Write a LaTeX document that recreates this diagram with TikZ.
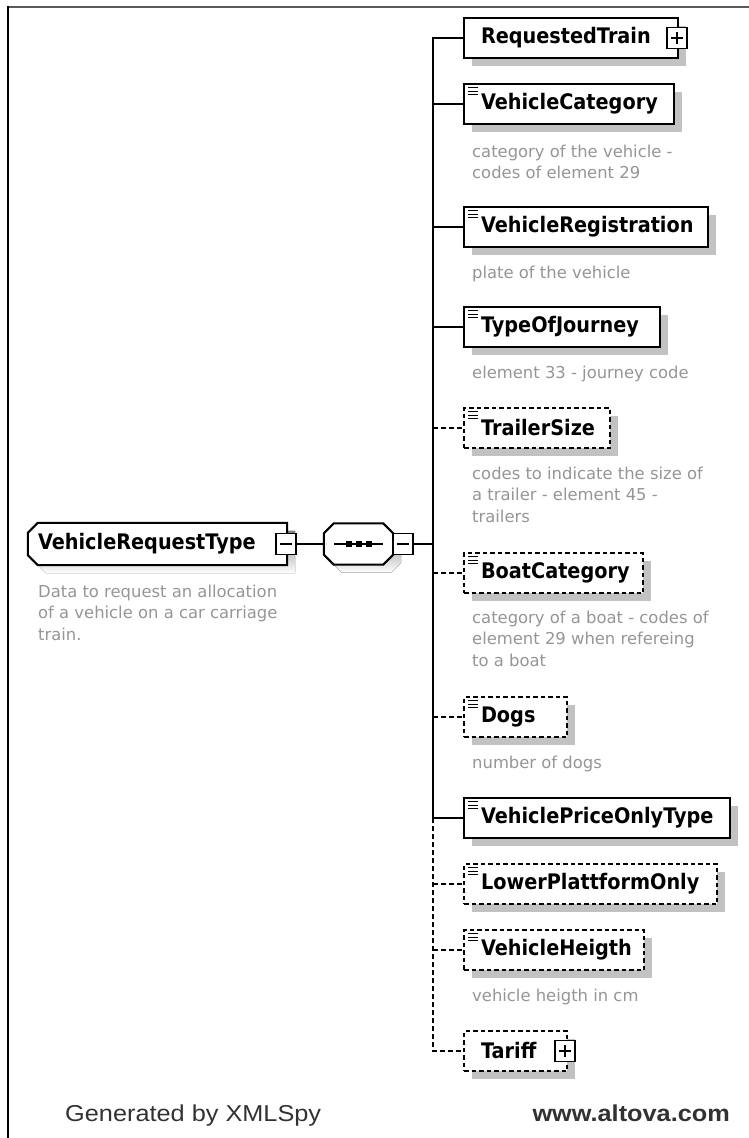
\documentclass[tikz,border=0pt]{standalone}
\usepackage{fontspec}
\setmainfont{DejaVu Sans}
\newfontfamily\lblfont{DejaVu Sans}[FakeStretch=0.9]
\newfontfamily\footfont{Liberation Sans}
\usetikzlibrary{shadows,calc}

\definecolor{desc}{RGB}{150,150,150}
\definecolor{shade}{RGB}{194,194,194}
\definecolor{foot}{RGB}{50,50,50}
\definecolor{frametop}{RGB}{90,90,90}

\tikzset{
  lbl/.style={font=\lblfont\fontsize{21.4}{25}\selectfont\bfseries},
  elem/.style={draw, line width=2pt, fill=white, minimum height=40pt,
    inner ysep=0pt, inner xsep=17pt, anchor=west, align=left, lbl,
    general shadow={fill=shade, shadow xshift=8pt, shadow yshift=-8pt}},
  opt/.style={elem, dash pattern=on 4.5pt off 3pt},
  simple/.style={path picture={
    \foreach \d in {3.5,7,10.5}
      \draw[solid, line width=1pt]
        ([shift={(4pt,-\d pt)}]path picture bounding box.north west) -- ++(10pt,0pt);}},
  minusbox/.style={draw, solid, line width=1.6pt, fill=white, minimum width=20pt,
    minimum height=21pt, inner sep=0pt,
    path picture={\draw[line width=1.3pt]
      ([xshift=-6pt]path picture bounding box.center) -- ([xshift=6pt]path picture bounding box.center);}},
  plusbox/.style={draw, solid, line width=1.6pt, fill=white, minimum width=20pt,
    minimum height=21pt, inner sep=0pt,
    path picture={\draw[line width=1.3pt]
      ([xshift=-6pt]path picture bounding box.center) -- ([xshift=6pt]path picture bounding box.center)
      ([yshift=-6pt]path picture bounding box.center) -- ([yshift=6pt]path picture bounding box.center);}},
  note/.style={anchor=north west, inner sep=0pt, align=left, text=desc,
    font=\fontsize{16.4}{21.5}\selectfont},
  wire/.style={line width=2pt},
  optwire/.style={line width=2pt, dash pattern=on 5pt off 3pt},
}
% a strut that puts the first baseline of a note 12.5pt below its top
\newcommand{\fl}{\rule{0pt}{12.5pt}}

\begin{document}
\begin{tikzpicture}[x=1pt, y=-1pt]
\useasboundingbox (0,0) rectangle (749,1138);
\fill[white] (0,0) rectangle (749,1138);

% frame
\draw[line width=2pt, frametop] (7,7) -- (749,7);
\draw[line width=2pt, black] (7.5,6) -- (7.5,1138);

% root type
\node[minimum width=259pt, minimum height=42pt, inner sep=0pt] (vrt) at (157.5,544) {};
\fill[shade] ($(vrt.north west)+(18,8)$) -- ($(vrt.north east)+(8,8)$)
  -- ($(vrt.south east)+(8,8)$) -- ($(vrt.south west)+(18,8)$)
  -- ($(vrt.south west)+(8,-2)$) -- ($(vrt.north west)+(8,18)$) -- cycle;
\draw[line width=2pt, fill=white] ($(vrt.north west)+(10,0)$) -- (vrt.north east)
  -- (vrt.south east) -- ($(vrt.south west)+(10,0)$)
  -- ($(vrt.south west)+(0,-10)$) -- ($(vrt.north west)+(0,10)$) -- cycle;
\node[anchor=west, inner sep=0pt, lbl] (vrtlabel) at ($(vrt.west)+(10,0)$) {VehicleRequestType};
\node[note] (vrtnote) at (38,584.5) {\fl Data to request an allocation\\of a vehicle on a car carriage\\train.};
\node[minusbox] (vrtx) at (286,544) {};

% sequence compositor
\node[minimum width=69pt, minimum height=41pt, inner sep=0pt] (seq) at (358.5,544) {};
\fill[shade] ($(seq.north west)+(18,8)$) -- ($(seq.north east)+(-2,8)$)
  -- ($(seq.north east)+(8,18)$) -- ($(seq.south east)+(8,-2)$)
  -- ($(seq.south east)+(-2,8)$) -- ($(seq.south west)+(18,8)$)
  -- ($(seq.south west)+(8,-2)$) -- ($(seq.north west)+(8,18)$) -- cycle;
\draw[line width=2pt, fill=white] ($(seq.north west)+(10,0)$) -- ($(seq.north east)+(-10,0)$)
  -- ($(seq.north east)+(0,10)$) -- ($(seq.south east)+(0,-10)$)
  -- ($(seq.south east)+(-10,0)$) -- ($(seq.south west)+(10,0)$)
  -- ($(seq.south west)+(0,-10)$) -- ($(seq.north west)+(0,10)$) -- cycle;
\draw[line width=2pt] ($(seq.center)+(-24.5,0)$) -- ($(seq.center)+(24.5,0)$);
\foreach \dx in {-10,0,10}
  \fill ($(seq.center)+(\dx-3,-3)$) rectangle ($(seq.center)+(\dx+3,3)$);
\node[minusbox] (seqx) at (403,544) {};

\draw[wire] (vrtx.east) -- (seq.west);

% child elements
\node[elem, text width=180pt] (rt) at (463,38) {RequestedTrain};
\node[plusbox] (rtx) at (677,38) {};

\node[elem, simple, text width=176pt] (vc) at (463,104) {VehicleCategory};
\node[note] (vcnote) at (472,144.5) {\fl category of the vehicle -\\codes of element 29};

\node[elem, simple, text width=210pt] (vr) at (463,227) {VehicleRegistration};
\node[note] (vrnote) at (472,265.5) {\fl plate of the vehicle};

\node[elem, simple, text width=162pt] (tj) at (463,327) {TypeOfJourney};
\node[note] (tjnote) at (472,365.5) {\fl element 33 - journey code};

\node[opt, simple, text width=112pt] (ts) at (463,428) {TrailerSize};
\node[note] (tsnote) at (472,466.5) {\fl codes to indicate the size of\\a trailer - element 45 -\\trailers};

\node[opt, simple, text width=145pt] (bc) at (463,573) {BoatCategory};
\node[note] (bcnote) at (472,610.5) {\fl category of a boat - codes of\\element 29 when refereing\\to a boat};

\node[opt, simple, text width=69pt] (dg) at (463,717) {Dogs};
\node[note] (dgnote) at (472,755.5) {\fl number of dogs};

\node[elem, simple, text width=232pt] (vp) at (463,818) {VehiclePriceOnlyType};

\node[opt, simple, text width=219pt] (lp) at (463,884) {LowerPlattformOnly};

\node[opt, simple, text width=146pt] (vh) at (463,950) {VehicleHeigth};
\node[note] (vhnote) at (472,988.5) {\fl vehicle heigth in cm};

\node[opt, text width=69pt] (tf) at (463,1051) {Tariff};
\node[plusbox] (tfx) at (565,1051) {};

% bus from the compositor to the children
\coordinate (bus) at (433,544);
\foreach \n in {rt,vc,vr,tj,ts,bc,dg,vp,lp,vh,tf}
  \coordinate (b\n) at (433,0 |- \n.west);
\draw[wire] (seqx.east) -- (bus);
\draw[wire] (rt.west) -- (brt) -- (bvp);
\draw[optwire] (bvp) -- (btf) -- (tf.west);
\foreach \n in {vc,vr,tj,vp}
  \draw[wire] (b\n) -- (\n.west);
\foreach \n in {ts,bc,dg,lp,vh}
  \draw[optwire] (b\n) -- (\n.west);

% footer
\node[anchor=base west, inner sep=0pt, text=foot, font=\footfont\fontsize{23}{27}\selectfont]
  (gen) at (65,1121) {\scalebox{1.1}[1]{Generated by XMLSpy}};
\node[anchor=base east, inner sep=0pt, text=foot, font=\footfont\fontsize{23}{27}\selectfont\bfseries]
  (web) at (730,1121) {\scalebox{1.1}[1]{www.altova.com}};
\end{tikzpicture}
\end{document}
